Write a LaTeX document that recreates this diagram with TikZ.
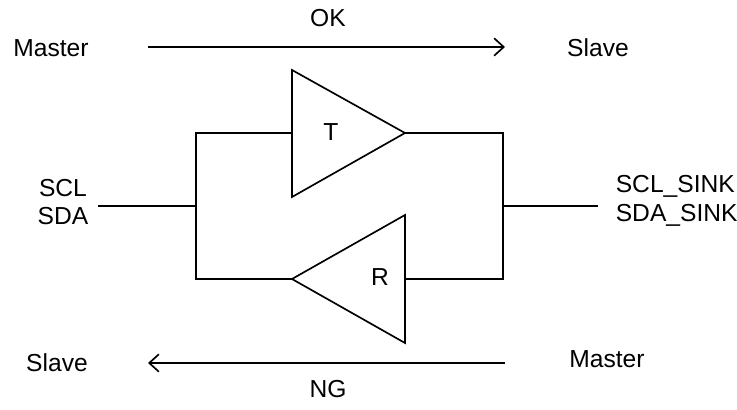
\documentclass[tikz,border=0pt]{standalone}
\usepackage{fontspec}
\setmainfont{Liberation Sans}
\usetikzlibrary{arrows.meta, positioning}

\begin{document}
\begin{tikzpicture}[line width=0.95pt, font=\fontsize{14}{17}\selectfont]
    \tikzstyle{label}=[anchor=base, inner sep=0pt]
    \tikzstyle{sink label}=[anchor=base west, inner sep=0pt]
    \tikzstyle{flow}=[-{Straight Barb[length=5.5pt,width=10pt]}]

    \useasboundingbox (0,0) rectangle (14.74,8.2);

    % OK direction
    \node[label] (M-0) at (1.02,7.06) {Master};
    \node[label] (S-0) at (11.96,7.06) {Slave};
    \node[label] (ok) at (6.56,7.66) {OK};
    \coordinate (F-0) at (2.96,7.26);
    \coordinate (G-0) at (10.10,7.26);
    \draw[flow] (F-0) -- (G-0);

    % NG direction
    \node[label] (S-1) at (1.14,0.76) {Slave};
    \node[label] (M-1) at (12.14,0.84) {Master};
    \node[label] (ng) at (6.56,0.24) {NG};
    \coordinate (F-1) at (10.10,0.94);
    \coordinate (G-1) at (2.96,0.94);
    \draw[flow] (F-1) -- (G-1);

    % buffers
    \coordinate (T-a) at (5.84,6.80);
    \coordinate (T-b) at (5.84,4.26);
    \coordinate (T-in) at (5.84,5.54);
    \coordinate (T-out) at (8.10,5.54);
    \draw (T-a) -- (T-out) -- (T-b) -- cycle;
    \node[label] (T) at (6.62,5.38) {T};

    \coordinate (R-a) at (8.10,3.90);
    \coordinate (R-b) at (8.10,1.34);
    \coordinate (R-in) at (8.10,2.62);
    \coordinate (R-out) at (5.84,2.62);
    \draw (R-a) -- (R-out) -- (R-b) -- cycle;
    \node[label] (R) at (7.60,2.48) {R};

    % wiring
    \coordinate (L-1) at (3.92,5.54);
    \coordinate (L-2) at (3.92,2.62);
    \coordinate (L-m) at (3.92,4.08);
    \coordinate (K-1) at (10.06,5.54);
    \coordinate (K-2) at (10.06,2.62);
    \coordinate (K-m) at (10.06,4.08);
    \coordinate (P-l) at (1.96,4.08);
    \coordinate (P-r) at (11.96,4.08);
    \draw (R-out) -- (L-2) -- (L-1) -- (T-in);
    \draw (T-out) -- (K-1) -- (K-2) -- (R-in);
    \draw (P-l) -- (L-m);
    \draw (K-m) -- (P-r);

    % pins
    \node[label] (scl) at (1.26,4.26) {SCL};
    \node[label] (sda) at (1.26,3.70) {SDA};
    \node[sink label] (scl-s) at (12.30,4.34) {SCL\_SINK};
    \node[sink label] (sda-s) at (12.30,3.76) {SDA\_SINK};
\end{tikzpicture}
\end{document}
